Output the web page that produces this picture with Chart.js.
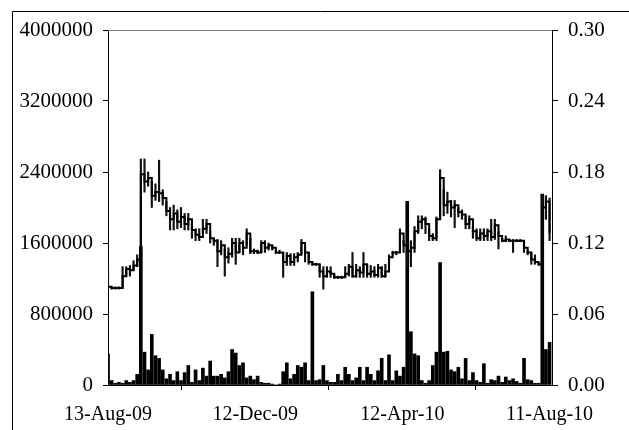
<!DOCTYPE html>
<html>
<head>
<meta charset="utf-8">
<script src="https://cdn.jsdelivr.net/npm/chart.js@4.4.1/dist/chart.umd.min.js"></script>
<style>
    html, body { margin: 0; padding: 0; background: #fff; }
    #wrap { width: 629px; height: 430px; }
</style>
</head>
<body>
<div id="wrap"><canvas id="myChart" width="629" height="430"></canvas></div>
<script>
'use strict';

// 데이터: 13-Aug-09 부터 경과 일수 (3일 간격)
const days = [
    0, 3, 6, 9, 12, 15, 18, 21, 24, 27, 30, 33, 36, 39, 42, 45, 48, 51, 54, 57,
    60, 63, 66, 69, 72, 75, 78, 81, 84, 87, 90, 93, 96, 99, 102, 105, 108, 111, 114, 117,
    120, 123, 126, 129, 132, 135, 138, 141, 144, 147, 150, 153, 156, 159, 162, 165, 168, 171, 174, 177,
    180, 183, 186, 189, 192, 195, 198, 201, 204, 207, 210, 213, 216, 219, 222, 225, 228, 231, 234, 237,
    240, 243, 246, 249, 252, 255, 258, 261, 264, 267, 270, 273, 276, 279, 282, 285, 288, 291, 294, 297,
    300, 303, 306, 309, 312, 315, 318, 321, 324, 327, 330, 333, 336, 339, 342, 345, 348, 351, 354, 357,
    360, 363
];

// 거래량 (왼쪽 축)
const volumes = [
    350000, 50000, 20000, 30000, 20000, 50000, 30000, 50000, 120000, 1560000,
    370000, 170000, 570000, 330000, 300000, 170000, 70000, 120000, 50000, 150000,
    50000, 140000, 220000, 30000, 170000, 50000, 190000, 100000, 270000, 100000,
    100000, 120000, 80000, 150000, 400000, 360000, 220000, 250000, 80000, 100000,
    60000, 100000, 30000, 20000, 20000, 10000, 0, 10000, 150000, 250000,
    70000, 120000, 220000, 200000, 250000, 50000, 1050000, 50000, 60000, 220000,
    50000, 30000, 30000, 120000, 50000, 200000, 120000, 50000, 80000, 200000,
    50000, 200000, 120000, 50000, 160000, 300000, 50000, 340000, 50000, 160000,
    100000, 200000, 2070000, 600000, 350000, 330000, 50000, 20000, 50000, 220000,
    370000, 1380000, 370000, 380000, 170000, 150000, 200000, 70000, 300000, 50000,
    140000, 50000, 30000, 240000, 20000, 60000, 50000, 100000, 30000, 90000,
    50000, 70000, 40000, 20000, 300000, 60000, 50000, 20000, 20000, 2150000,
    400000, 480000
];

// 종가 (오른쪽 축)
const closes = [
    0.083, 0.082, 0.082, 0.082, 0.092, 0.098, 0.097, 0.101, 0.106, 0.178,
    0.172, 0.175, 0.160, 0.163, 0.162, 0.158, 0.147, 0.140, 0.145, 0.138,
    0.142, 0.136, 0.140, 0.131, 0.127, 0.125, 0.132, 0.136, 0.124, 0.122,
    0.113, 0.118, 0.108, 0.111, 0.120, 0.112, 0.120, 0.116, 0.128, 0.113,
    0.113, 0.112, 0.120, 0.116, 0.118, 0.116, 0.112, 0.112, 0.104, 0.109,
    0.104, 0.108, 0.110, 0.120, 0.112, 0.104, 0.102, 0.102, 0.096, 0.092,
    0.096, 0.094, 0.091, 0.091, 0.091, 0.094, 0.100, 0.092, 0.097, 0.095,
    0.102, 0.094, 0.096, 0.093, 0.099, 0.092, 0.096, 0.108, 0.112, 0.112,
    0.128, 0.118, 0.113, 0.116, 0.130, 0.138, 0.140, 0.136, 0.126, 0.124,
    0.140, 0.175, 0.152, 0.155, 0.150, 0.152, 0.146, 0.144, 0.136, 0.140,
    0.130, 0.124, 0.128, 0.126, 0.130, 0.125, 0.135, 0.126, 0.122, 0.123,
    0.122, 0.122, 0.122, 0.122, 0.116, 0.112, 0.106, 0.104, 0.102, 0.150,
    0.155, 0.128
];

// 저가, 고가
const lows = [
    0.081, 0.081, 0.081, 0.081, 0.082, 0.092, 0.092, 0.097, 0.100, 0.110,
    0.163, 0.168, 0.150, 0.156, 0.155, 0.152, 0.143, 0.131, 0.131, 0.132,
    0.133, 0.131, 0.131, 0.124, 0.122, 0.122, 0.128, 0.128, 0.120, 0.118,
    0.100, 0.110, 0.092, 0.103, 0.108, 0.102, 0.112, 0.110, 0.118, 0.111,
    0.111, 0.111, 0.112, 0.112, 0.114, 0.114, 0.111, 0.111, 0.091, 0.101,
    0.101, 0.101, 0.104, 0.111, 0.104, 0.102, 0.101, 0.101, 0.091, 0.081,
    0.091, 0.091, 0.090, 0.090, 0.090, 0.091, 0.092, 0.091, 0.091, 0.091,
    0.091, 0.091, 0.091, 0.091, 0.091, 0.091, 0.091, 0.100, 0.110, 0.110,
    0.112, 0.112, 0.100, 0.100, 0.112, 0.128, 0.132, 0.128, 0.122, 0.122,
    0.122, 0.140, 0.143, 0.145, 0.142, 0.133, 0.142, 0.140, 0.132, 0.132,
    0.124, 0.122, 0.122, 0.122, 0.122, 0.122, 0.123, 0.115, 0.121, 0.121,
    0.121, 0.112, 0.121, 0.121, 0.112, 0.110, 0.102, 0.102, 0.101, 0.101,
    0.140, 0.122
];
const highs = [
    0.100, 0.083, 0.083, 0.083, 0.100, 0.100, 0.101, 0.105, 0.110, 0.191,
    0.191, 0.180, 0.172, 0.170, 0.190, 0.165, 0.155, 0.150, 0.152, 0.148,
    0.150, 0.145, 0.145, 0.136, 0.132, 0.132, 0.140, 0.140, 0.130, 0.124,
    0.123, 0.122, 0.115, 0.116, 0.124, 0.124, 0.124, 0.122, 0.132, 0.124,
    0.115, 0.114, 0.122, 0.122, 0.120, 0.118, 0.114, 0.114, 0.112, 0.112,
    0.111, 0.111, 0.112, 0.123, 0.116, 0.112, 0.104, 0.103, 0.102, 0.100,
    0.100, 0.100, 0.093, 0.092, 0.092, 0.100, 0.102, 0.112, 0.102, 0.100,
    0.112, 0.102, 0.101, 0.100, 0.102, 0.100, 0.102, 0.110, 0.113, 0.113,
    0.132, 0.122, 0.120, 0.122, 0.134, 0.143, 0.143, 0.142, 0.132, 0.128,
    0.142, 0.182, 0.165, 0.163, 0.156, 0.156, 0.150, 0.148, 0.143, 0.143,
    0.134, 0.132, 0.132, 0.132, 0.132, 0.140, 0.140, 0.130, 0.124, 0.126,
    0.123, 0.123, 0.123, 0.123, 0.122, 0.114, 0.112, 0.110, 0.103, 0.160,
    0.160, 0.158
];

// 축 눈금
const tickDays = [0, 121, 242, 363];
const tickLabels = ['13-Aug-09', '12-Dec-09', '12-Apr-10', '11-Aug-10'];
const volTicks = [0, 800000, 1600000, 2400000, 3200000, 4000000];
const priceTicks = [0, 0.06, 0.12, 0.18, 0.24, 0.30];

const FONT = { family: "'Liberation Serif', 'Times New Roman', serif", size: 20 };

// 바깥 테두리 + 플롯 위쪽 선
const framePlugin = {
    id: 'frame',
    beforeDraw(chart) {
        const ctx = chart.ctx;
        ctx.save();
        ctx.fillStyle = '#fff';
        ctx.fillRect(0, 0, chart.width, chart.height);
        ctx.strokeStyle = '#000';
        ctx.lineWidth = 1;
        ctx.beginPath();
        ctx.moveTo(12.5, chart.height);
        ctx.lineTo(12.5, 11.5);
        ctx.lineTo(chart.width, 11.5);
        ctx.stroke();
        ctx.restore();
    },
    afterDraw(chart) {
        const a = chart.chartArea;
        const ctx = chart.ctx;
        ctx.save();
        ctx.strokeStyle = '#808080';
        ctx.lineWidth = 1;
        ctx.beginPath();
        ctx.moveTo(a.left, a.top + 0.5);
        ctx.lineTo(a.right, a.top + 0.5);
        ctx.stroke();
        ctx.restore();
    }
};

const volData = days.map((d, i) => ({ x: d, y: volumes[i] }));
const rangeData = days.map((d, i) => ({ x: d, y: [lows[i], highs[i]] }));
const closeData = days.map((d, i) => ({ x: d, y: closes[i] }));

const data = {
    datasets: [
        {
            type: 'line',
            data: closeData,
            yAxisID: 'y1',
            borderColor: '#000',
            borderWidth: 2,
            stepped: true,
            pointRadius: 0,
            fill: false,
            order: 1
        },
        {
            type: 'bar',
            data: rangeData,
            yAxisID: 'y1',
            backgroundColor: '#111',
            barThickness: 1.5,
            grouped: false,
            order: 2
        },
        {
            type: 'bar',
            data: volData,
            yAxisID: 'y',
            backgroundColor: '#000',
            barThickness: 3,
            grouped: false,
            order: 3
        }
    ]
};

const config = {
    type: 'bar',
    data,
    plugins: [framePlugin],
    options: {
        responsive: false,
        animation: false,
        layout: { padding: { top: 30, left: 0, right: 0, bottom: 0 } },
        plugins: {
            legend: { display: false },
            tooltip: { enabled: false }
        },
        scales: {
            x: {
                type: 'linear',
                min: 0,
                max: 365,
                offset: false,
                afterBuildTicks: (s) => { s.ticks = tickDays.map(v => ({ value: v })); },
                afterFit: (s) => { s.height = 45; },
                ticks: {
                    color: '#000',
                    font: FONT,
                    padding: 13,
                    maxRotation: 0,
                    callback: (v) => tickLabels[tickDays.indexOf(v)]
                },
                grid: { drawOnChartArea: false, color: '#000', tickLength: 5 },
                border: { display: true, color: '#000', width: 1 }
            },
            y: {
                position: 'left',
                min: 0,
                max: 4000000,
                afterBuildTicks: (s) => { s.ticks = volTicks.map(v => ({ value: v })); },
                afterFit: (s) => { s.width = 108; },
                ticks: {
                    color: '#000',
                    font: { family: FONT.family, size: 21 },
                    padding: 10,
                    callback: (v) => String(v)
                },
                grid: { drawOnChartArea: false, color: '#000', tickLength: 5 },
                border: { display: true, color: '#000', width: 1 }
            },
            y1: {
                position: 'right',
                min: 0,
                max: 0.30,
                afterBuildTicks: (s) => { s.ticks = priceTicks.map(v => ({ value: v })); },
                afterFit: (s) => { s.width = 77; },
                ticks: {
                    color: '#000',
                    font: { family: FONT.family, size: 21 },
                    padding: 10,
                    callback: (v) => Number(v).toFixed(2)
                },
                grid: { drawOnChartArea: false, color: '#000', tickLength: 6 },
                border: { display: true, color: '#000', width: 1 }
            }
        }
    }
};

var myChart = new Chart(
    document.getElementById('myChart'),
    config
);
</script>
</body>
</html>
